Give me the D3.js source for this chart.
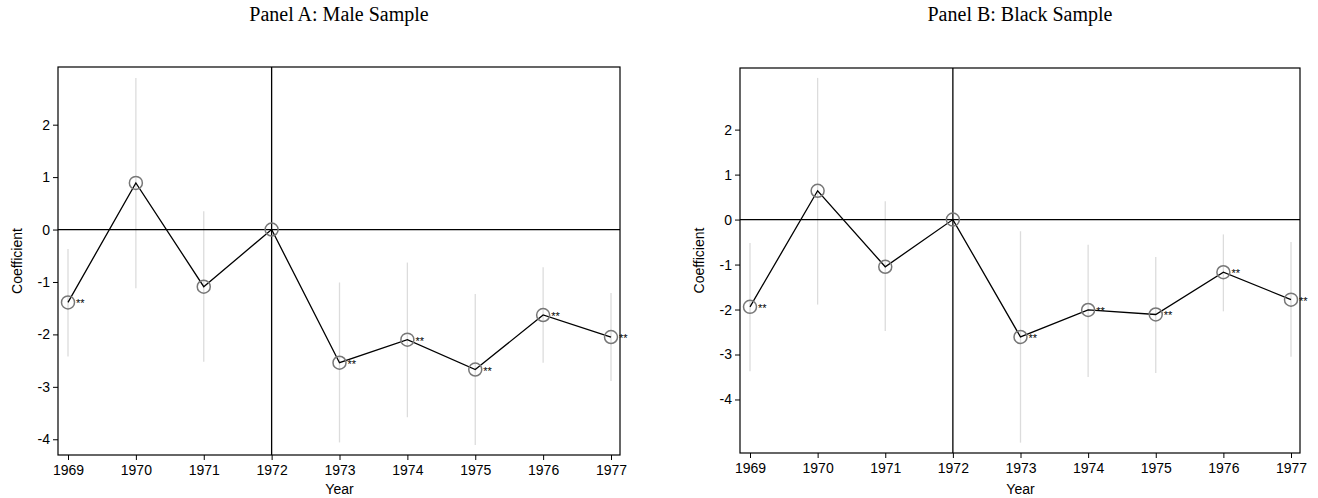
<!DOCTYPE html>
<html><head><meta charset="utf-8">
<script src="https://cdn.jsdelivr.net/npm/d3@7"></script>
<style>body{margin:0;background:#fff}</style>
</head><body>
<svg id="c" width="1318" height="498"></svg>
<script>
const years = [1969, 1970, 1971, 1972, 1973, 1974, 1975, 1976, 1977];
const yTicks = [2, 1, 0, -1, -2, -3, -4];

const maleCoef = [-1.39, 0.89, -1.09, 0, -2.54, -2.10, -2.67, -1.63, -2.05];
const maleLo   = [-2.42, -1.12, -2.52, null, -4.06, -3.58, -4.11, -2.54, -2.89];
const maleHi   = [-0.37, 2.89, 0.35, null, -1.01, -0.63, -1.23, -0.72, -1.21];
const maleSig  = [true, false, false, false, true, true, true, true, true];

const blackCoef = [-1.94, 0.64, -1.05, 0, -2.61, -2.01, -2.11, -1.17, -1.78];
const blackLo   = [-3.37, -1.89, -2.48, null, -4.96, -3.50, -3.41, -2.04, -3.05];
const blackHi   = [-0.52, 3.15, 0.41, null, -0.26, -0.56, -0.83, -0.33, -0.50];
const blackSig  = [true, false, false, false, true, true, true, true, true];

const svg = d3.select("#c");
const SANS = "Liberation Sans, Arial, sans-serif";

function panel(title, coef, lo, hi, sig, box, yDom) {
  const {x0, x1, y0, y1} = box;
  const g = svg.append("g");
  const x = d3.scaleLinear().domain([1969, 1977]).range([x0 + 10, x1 - 9]);
  const y = d3.scaleLinear().domain(yDom).range([y1, y0]);

  g.append("text").attr("x", (x0 + x1) / 2).attr("y", 21).attr("text-anchor", "middle")
    .style("font-family", "Liberation Serif, serif").style("font-size", "20px").text(title);

  // CI bars
  years.forEach((yr, i) => {
    if (lo[i] == null) return;
    g.append("line").attr("x1", x(yr)).attr("x2", x(yr)).attr("y1", y(lo[i])).attr("y2", y(hi[i]))
      .attr("stroke", "#dcdcdc").attr("stroke-width", 1.3);
  });

  g.append("line").attr("x1", x0).attr("x2", x1).attr("y1", y(0)).attr("y2", y(0)).attr("stroke", "#000").attr("stroke-width", 1.3);
  g.append("line").attr("x1", x(1972)).attr("x2", x(1972)).attr("y1", y0).attr("y2", y1).attr("stroke", "#000").attr("stroke-width", 1.3);

  const pts = years.map((yr, i) => [x(yr), y(coef[i])]);
  g.append("path").attr("d", d3.line()(pts)).attr("fill", "none").attr("stroke", "#000").attr("stroke-width", 1.3);
  g.selectAll("circle.m").data(pts).enter().append("circle")
    .attr("cx", d => d[0]).attr("cy", d => d[1]).attr("r", 6.5)
    .attr("fill", "none").attr("stroke", "#777").attr("stroke-width", 1.5);
  years.forEach((yr, i) => {
    if (!sig[i]) return;
    g.append("text").attr("x", x(yr) + 8).attr("y", y(coef[i]) + 5)
      .style("font-family", SANS).style("font-size", "11px").text("**");
  });

  g.append("rect").attr("x", x0).attr("y", y0).attr("width", x1 - x0).attr("height", y1 - y0)
    .attr("fill", "none").attr("stroke", "#000").attr("stroke-width", 1.2);

  const xa = g.append("g").attr("transform", `translate(0,${y1})`)
    .call(d3.axisBottom(x).tickValues(years).tickFormat(d3.format("d")).tickSize(5).tickSizeOuter(0));
  xa.select(".domain").remove();
  xa.selectAll("text").attr("font-size", 14).attr("font-family", SANS).attr("dy", "0.85em");

  const ya = g.append("g").attr("transform", `translate(${x0},0)`)
    .call(d3.axisLeft(y).tickValues(yTicks).tickFormat(d => String(d)).tickSize(5).tickSizeOuter(0));
  ya.select(".domain").remove();
  ya.selectAll("text").attr("font-size", 14).attr("font-family", SANS);

  g.append("text").attr("x", (x(1969) + x(1977)) / 2).attr("y", 494).attr("text-anchor", "middle")
    .attr("font-family", SANS).attr("font-size", 14).text("Year");
  g.append("text").attr("transform", `translate(${x0 - 36},${(y0 + y1) / 2}) rotate(-90)`).attr("text-anchor", "middle")
    .attr("font-family", SANS).attr("font-size", 14).text("Coefficient");
}

panel("Panel A: Male Sample", maleCoef, maleLo, maleHi, maleSig, {x0: 58, x1: 620, y0: 67, y1: 455}, [-4.3, 3.1]);
panel("Panel B: Black Sample", blackCoef, blackLo, blackHi, blackSig, {x0: 740, x1: 1300, y0: 68, y1: 453}, [-5.19, 3.37]);
</script>
</body></html>
